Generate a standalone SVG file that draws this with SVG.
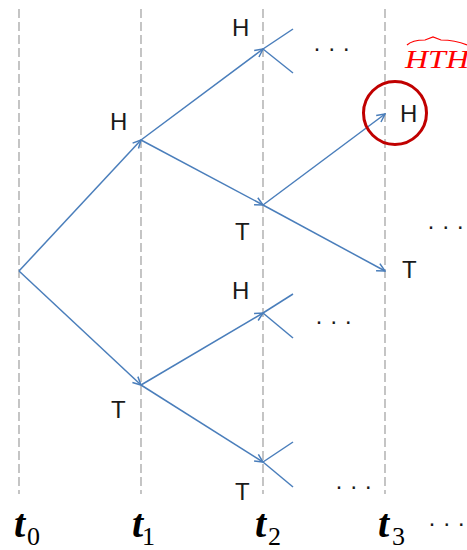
<svg xmlns="http://www.w3.org/2000/svg" width="467" height="550" viewBox="0 0 467 550">
<style>
.grid{stroke:#A6A6A6;stroke-width:1.3;stroke-dasharray:9 4;fill:none}
.edge{stroke:#4A7EBB;stroke-width:1.5;fill:none}
.arr{marker-end:url(#ah)}
.lbl{font-family:"Liberation Sans",Arial,sans-serif;font-size:24px;fill:#1A1A1A}
.dots{font-family:"Liberation Sans",Arial,sans-serif;font-size:24px;fill:#1A1A1A}
.t{font-family:"Liberation Serif","Times New Roman",serif;font-size:40px;font-style:italic;font-weight:bold;fill:#000}
.sub{font-family:"Liberation Serif","Times New Roman",serif;font-size:26px;fill:#000}
</style>
<defs>
<marker id="ah" viewBox="0 0 10 10" markerWidth="10" markerHeight="10" refX="9" refY="5" orient="auto" markerUnits="userSpaceOnUse">
<path d="M1,1 L9,5 L1,9" fill="none" stroke="#4A7EBB" stroke-width="1.5"/>
</marker>
</defs>
<rect width="467" height="550" fill="#fff"/>
<g id="timelines">
<line class="grid" x1="19" y1="9" x2="19" y2="494"/>
<line class="grid" x1="141" y1="9" x2="141" y2="494"/>
<line class="grid" x1="263" y1="9" x2="263" y2="494"/>
<line class="grid" x1="385" y1="9" x2="385" y2="494"/>
</g>
<g id="connectors">
<line class="edge arr" x1="19" y1="271" x2="141" y2="140"/>
<line class="edge arr" x1="19" y1="271" x2="141" y2="385"/>
<line class="edge arr" x1="141" y1="140" x2="263" y2="49"/>
<line class="edge arr" x1="141" y1="140" x2="263" y2="205"/>
<line class="edge arr" x1="263" y1="205" x2="385" y2="114"/>
<line class="edge arr" x1="263" y1="205" x2="385" y2="271"/>
<line class="edge arr" x1="141" y1="385" x2="263" y2="313"/>
<line class="edge arr" x1="141" y1="385" x2="263" y2="462"/>
<line class="edge" x1="263" y1="49" x2="293" y2="29"/>
<line class="edge" x1="263" y1="49" x2="293" y2="73"/>
<line class="edge" x1="263" y1="313" x2="293" y2="294"/>
<line class="edge" x1="263" y1="313" x2="293" y2="338"/>
<line class="edge" x1="263" y1="462" x2="293" y2="442"/>
<line class="edge" x1="263" y1="462" x2="293" y2="487"/>
</g>
<g id="node-H1"><text class="lbl" x="110" y="130">H</text></g>
<g id="node-T1"><text class="lbl" x="111" y="418">T</text></g>
<g id="node-H2a"><text class="lbl" x="232" y="36">H</text></g>
<g id="node-T2a"><text class="lbl" x="235" y="240">T</text></g>
<g id="node-H2b"><text class="lbl" x="232" y="299">H</text></g>
<g id="node-T2b"><text class="lbl" x="235" y="500">T</text></g>
<g id="node-H3">
<circle cx="395" cy="113" r="31.5" fill="none" stroke="#C00000" stroke-width="3"/>
<text class="lbl" x="400" y="122">H</text>
</g>
<g id="node-T3"><text class="lbl" x="402" y="278">T</text></g>
<g id="hth">
<text x="405" y="68" font-family="'Liberation Serif','Times New Roman',serif" font-size="26" font-style="italic" fill="#FF0000" textLength="64" lengthAdjust="spacingAndGlyphs">HTH</text>
<path d="M407,45 Q412,40 425,40 L433,37 L441,40 Q455,40 467,45" fill="none" stroke="#FF0000" stroke-width="1.2"/>
</g>
<g id="ellipses">
<text class="dots" x="313" y="55.5">· · ·</text>
<text class="dots" x="427" y="233.5">· · ·</text>
<text class="dots" x="315" y="328.5">· · ·</text>
<text class="dots" x="335" y="493.5">· · ·</text>
<text class="dots" x="428" y="530.5">· · ·</text>
</g>
<g id="time-labels">
<text class="t" x="14" y="537">t</text><text class="sub" x="27" y="545">0</text>
<text class="t" x="132" y="537">t</text><text class="sub" x="142" y="545">1</text>
<text class="t" x="255" y="537">t</text><text class="sub" x="268" y="545">2</text>
<text class="t" x="378" y="537">t</text><text class="sub" x="392" y="545">3</text>
</g>
</svg>
